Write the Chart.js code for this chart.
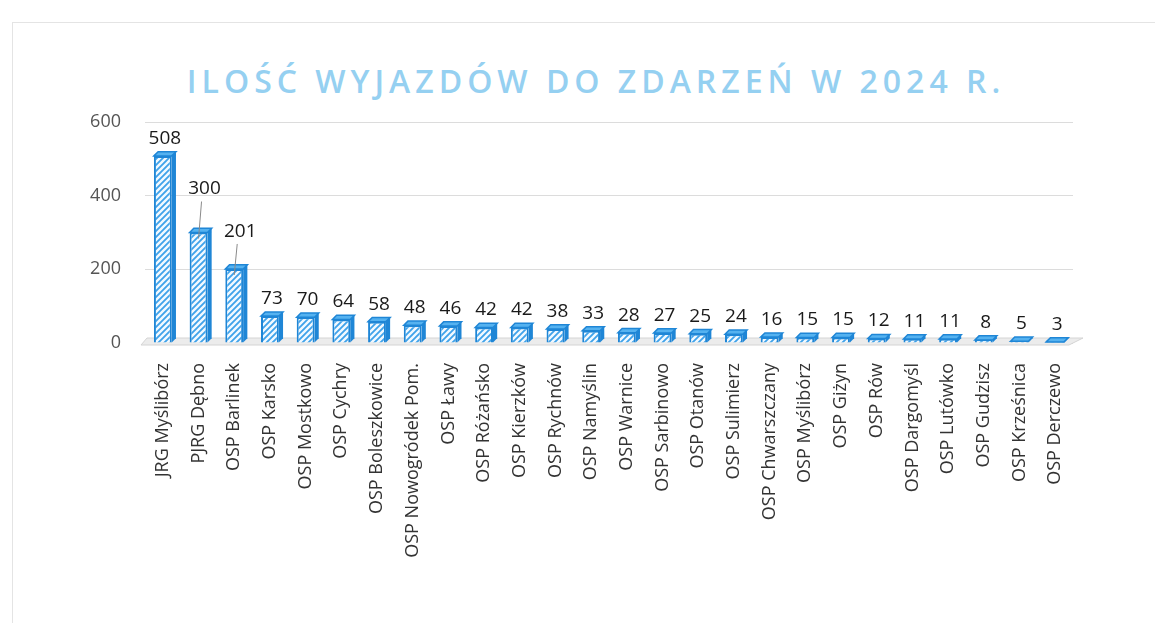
<!DOCTYPE html>
<html>
<head>
<meta charset="utf-8">
<script src="https://cdn.jsdelivr.net/npm/chart.js@4.4.1/dist/chart.umd.min.js"></script>
<style>
  html, body { margin: 0; padding: 0; background: #fff; }
  body { width: 1155px; height: 623px; position: relative; overflow: hidden; }
  .frame { position: absolute; left: 12px; top: 22px; width: 1160px; height: 620px; border: 1px solid #e4e4e4; }
  .title { position: absolute; left: 0; width: 1192px; top: 59px; text-align: center;
           font-family: "Open Sans", sans-serif; font-weight: 600; font-size: 32px;
           letter-spacing: 5px; color: #95d0f1; }
  canvas { position: absolute; left: 0; top: 0; }
</style>
</head>
<body>
<div class="frame"></div>
<div class="title">ILOŚĆ WYJAZDÓW DO ZDARZEŃ W 2024 R.</div>
<canvas id="wyjazdyChart" width="1155" height="623"></canvas>
<script>
const jednostki = [
  'JRG Myślibórz', 'PJRG Dębno', 'OSP Barlinek', 'OSP Karsko', 'OSP Mostkowo',
  'OSP Cychry', 'OSP Boleszkowice', 'OSP Nowogródek Pom.', 'OSP Ławy', 'OSP Różańsko',
  'OSP Kierzków', 'OSP Rychnów', 'OSP Namyślin', 'OSP Warnice', 'OSP Sarbinowo',
  'OSP Otanów', 'OSP Sulimierz', 'OSP Chwarszczany', 'OSP Myślibórz', 'OSP Giżyn',
  'OSP Rów', 'OSP Dargomyśl', 'OSP Lutówko', 'OSP Gudzisz', 'OSP Krześnica', 'OSP Derczewo'
];
const wyjazdy = [508, 300, 201, 73, 70, 64, 58, 48, 46, 42, 42, 38, 33, 28, 27, 25, 24, 16, 15, 15, 12, 11, 11, 8, 5, 3];
const osY = [0, 200, 400, 600];

// kreskowanie słupków
function zrobWzor() {
  const c = document.createElement('canvas');
  c.width = 6; c.height = 6;
  const g = c.getContext('2d');
  g.fillStyle = '#3fa2ea';
  g.fillRect(0, 0, 6, 6);
  g.strokeStyle = '#f2f9ff';
  g.lineWidth = 2.4;
  g.beginPath();
  g.moveTo(-1, 7); g.lineTo(7, -1);
  g.moveTo(-1, 1); g.lineTo(1, -1);
  g.moveTo(5, 7); g.lineTo(7, 5);
  g.stroke();
  return g.createPattern(c, 'repeat');
}

const GLEB = 6; // głębokość efektu 3D

// etykiety odsunięte z linią odniesienia (jak w oryginale)
const odsuniete = { 1: { dx: 4, dy: -26 }, 2: { dx: 4, dy: -20 } };

const efekt3d = {
  id: 'efekt3d',
  beforeDatasetsDraw(chart) {
    const { ctx, chartArea } = chart;
    const y0 = chart.scales.y.getPixelForValue(0);
    ctx.save();
    ctx.fillStyle = '#ececec';
    ctx.strokeStyle = '#d4d4d4';
    ctx.beginPath();
    ctx.moveTo(chartArea.left - 4, y0 + 2);
    ctx.lineTo(chartArea.right - 4, y0 + 2);
    ctx.lineTo(chartArea.right + GLEB + 4, y0 - GLEB + 1);
    ctx.lineTo(chartArea.left + GLEB - 4, y0 - GLEB + 1);
    ctx.closePath();
    ctx.fill();
    ctx.stroke();
    ctx.restore();
  },
  afterDatasetsDraw(chart) {
    const { ctx } = chart;
    const meta = chart.getDatasetMeta(0);
    const d = GLEB * 0.7;
    ctx.save();
    meta.data.forEach((bar, i) => {
      const l = bar.x - bar.width / 2, r = bar.x + bar.width / 2;
      const t = bar.y, b = bar.base;
      // bok
      ctx.fillStyle = '#1f86d6';
      ctx.beginPath();
      ctx.moveTo(r, t); ctx.lineTo(r + d, t - d);
      ctx.lineTo(r + d, b - d); ctx.lineTo(r, b);
      ctx.closePath(); ctx.fill();
      // góra
      ctx.fillStyle = '#55b2f0';
      ctx.strokeStyle = '#1f86d6';
      ctx.lineWidth = 1.5;
      ctx.beginPath();
      ctx.moveTo(l, t); ctx.lineTo(l + d, t - d);
      ctx.lineTo(r + d, t - d); ctx.lineTo(r, t);
      ctx.closePath(); ctx.fill(); ctx.stroke();
      // etykieta wartości
      const off = odsuniete[i] || { dx: 0, dy: 0 };
      const lx = bar.x + 2 + off.dx;
      const ly = t - GLEB - 2 + off.dy;
      if (odsuniete[i]) {
        ctx.strokeStyle = '#8a8a8a';
        ctx.lineWidth = 1;
        ctx.beginPath();
        ctx.moveTo(lx - 3, ly + 3);
        ctx.lineTo(bar.x, t + 6);
        ctx.stroke();
      }
      ctx.fillStyle = '#1a1a1a';
      ctx.font = '19px "Open Sans", sans-serif';
      ctx.textAlign = 'center';
      ctx.textBaseline = 'bottom';
      ctx.fillText(String(wyjazdy[i]), lx, ly);
    });
    ctx.restore();
  }
};

const ctx = document.getElementById('wyjazdyChart').getContext('2d');
new Chart(ctx, {
  type: 'bar',
  data: {
    labels: jednostki,
    datasets: [{
      data: wyjazdy,
      backgroundColor: zrobWzor(),
      borderColor: '#1f86d6',
      borderWidth: 2,
      barPercentage: 0.5,
      categoryPercentage: 1
    }]
  },
  options: {
    responsive: false,
    animation: false,
    layout: { padding: { top: 122, right: 82, left: 0, bottom: 0 } },
    plugins: {
      legend: { display: false },
      title: { display: false },
      tooltip: { enabled: false }
    },
    scales: {
      x: {
        afterFit(scale) { scale.height = 623 - 343; },
        grid: { display: false },
        border: { display: false },
        ticks: {
          minRotation: 90, maxRotation: 90, autoSkip: false, padding: 12,
          color: '#333',
          font: { family: '"Open Sans", sans-serif', size: 18 }
        }
      },
      y: {
        min: 0, max: 600,
        afterFit(scale) { scale.width = 145; },
        afterBuildTicks(scale) { scale.ticks = osY.map(v => ({ value: v })); },
        border: { display: false },
        grid: { color: '#dcdcdc', lineWidth: 1, tickLength: 0 },
        ticks: {
          padding: 24, color: '#555',
          font: { family: '"Open Sans", sans-serif', size: 18 }
        }
      }
    }
  },
  plugins: [efekt3d]
});
</script>
</body>
</html>
